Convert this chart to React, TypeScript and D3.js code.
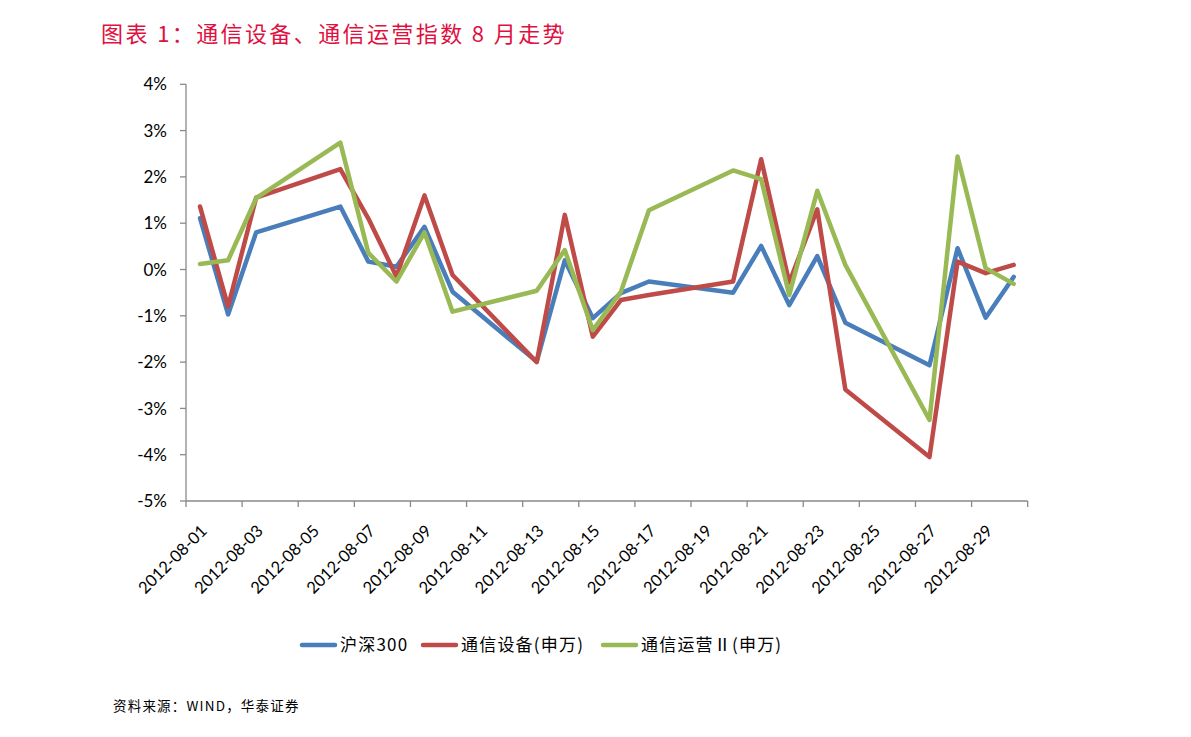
import React from "react";
import * as d3 from "d3";

const days = [1, 2, 3, 6, 7, 8, 9, 10, 13, 14, 15, 16, 17, 20, 21, 22, 23, 24, 27, 28, 29, 30];
const hs300 = [1.11, -0.97, 0.8, 1.36, 0.17, 0.06, 0.92, -0.48, -1.99, 0.2, -1.05, -0.51, -0.26, -0.5, 0.51, -0.77, 0.29, -1.15, -2.07, 0.46, -1.04, -0.16];
const telecomEquip = [1.36, -0.8, 1.55, 2.17, 1.1, -0.15, 1.6, -0.12, -2.0, 1.18, -1.45, -0.66, -0.55, -0.26, 2.38, -0.28, 1.3, -2.59, -4.05, 0.17, -0.08, 0.1];
const telecomOper = [0.12, 0.2, 1.54, 2.74, 0.36, -0.26, 0.8, -0.91, -0.46, 0.42, -1.31, -0.48, 1.28, 2.14, 1.95, -0.55, 1.7, 0.1, -3.25, 2.44, 0.03, -0.31];
const yTicks = [4, 3, 2, 1, 0, -1, -2, -3, -4, -5];
const tickDays = [1, 3, 5, 7, 9, 11, 13, 15, 17, 19, 21, 23, 25, 27, 29, 31];

const seriesList = [
  { name: "沪深300", values: hs300, color: "#4A7EBB" },
  { name: "通信设备(申万)", values: telecomEquip, color: "#BE4B48" },
  { name: "通信运营Ⅱ(申万)", values: telecomOper, color: "#98B954" },
];

const dayLabel = (d: number) => `2012-08-${String(d).padStart(2, "0")}`;

export default function App() {
  const W = 1191, H = 737;
  const x = d3.scaleLinear().domain([1, 31]).range([186, 1027.7]);
  const y = d3.scaleLinear().domain([-5, 4]).range([501, 84.3]);
  const cx = (d: number) => x(d + 0.5);
  const line = d3.line<[number, number]>().x((p) => cx(p[0])).y((p) => y(p[1]));
  const axisColor = "#898989";
  const cjk = "'Noto Sans CJK SC', 'Noto Sans', sans-serif";
  const latin = "Lato, 'Open Sans', sans-serif";
  const legendItems = [
    { lx: 302, tx: 340 },
    { lx: 423, tx: 461 },
    { lx: 603, tx: 641 },
  ];
  return (
    <svg width={W} height={H} style={{ position: "absolute", left: 0, top: 0, background: "#fff" }}>
      <text x={101} y={42} fontFamily={cjk} fontSize={22} letterSpacing={2.4} fill="#E0103F">图表 1：通信设备、通信运营指数 8 月走势</text>
      {/* y axis */}
      <line x1={186} x2={186} y1={y(4)} y2={y(-5)} stroke={axisColor} strokeWidth={1.3} />
      {yTicks.map((t) => (
        <g key={t}>
          <line x1={180} x2={186} y1={y(t)} y2={y(t)} stroke={axisColor} strokeWidth={1.3} />
          <text x={167} y={y(t)} dy="0.36em" textAnchor="end" fontFamily={latin} fontSize={17} fill="#000">{`${t}%`}</text>
        </g>
      ))}
      {/* x axis */}
      <line x1={x(1)} x2={x(31)} y1={501} y2={501} stroke={axisColor} strokeWidth={1.3} />
      {tickDays.map((d) => (
        <g key={d}>
          <line x1={x(d)} x2={x(d)} y1={501} y2={507} stroke={axisColor} strokeWidth={1.3} />
          {d <= 29 && (
            <text
              transform={`translate(${x(d) + 22},${532}) rotate(-45)`}
              textAnchor="end"
              fontFamily={latin}
              fontSize={16.5}
              fill="#000"
            >
              {dayLabel(d)}
            </text>
          )}
        </g>
      ))}
      {seriesList.map((s) => (
        <path
          key={s.name}
          d={line(days.map((d, i) => [d, s.values[i]] as [number, number])) || ""}
          fill="none"
          stroke={s.color}
          strokeWidth={4.5}
          strokeLinejoin="round"
          strokeLinecap="round"
        />
      ))}
      {seriesList.map((s, i) => (
        <g key={s.name}>
          <line x1={legendItems[i].lx} x2={legendItems[i].lx + 33} y1={645} y2={645} stroke={s.color} strokeWidth={4.5} strokeLinecap="round" />
          <text x={legendItems[i].tx} y={645} dy="0.36em" fontFamily={cjk} fontSize={17} letterSpacing={1.2} fill="#000">{s.name}</text>
        </g>
      ))}
      <text x={113} y={711} fontFamily={cjk} fontSize={13.5} letterSpacing={1.2} fill="#000">资料来源：WIND，华泰证券</text>
    </svg>
  );
}
